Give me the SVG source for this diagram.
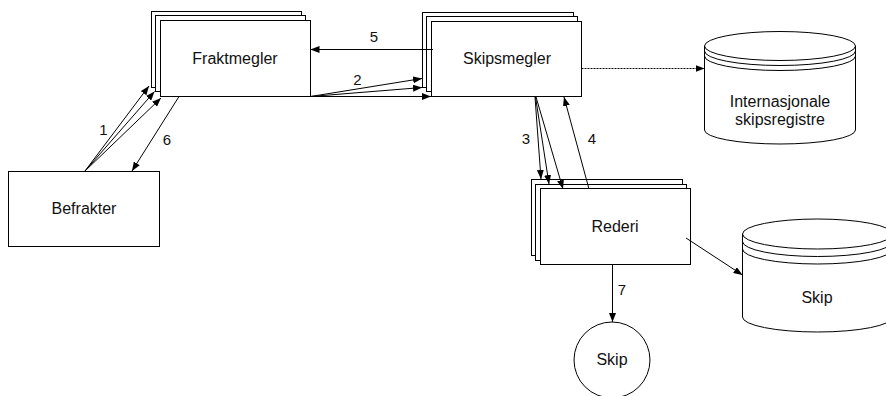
<svg xmlns="http://www.w3.org/2000/svg" width="886" height="396" viewBox="0 0 886 396">
<style>
.box{fill:#fff;stroke:#000;stroke-width:1}
.ln{fill:none;stroke:#000;stroke-width:1}
.t{font-family:"Liberation Sans",Arial,sans-serif;font-size:16px;fill:#111;text-anchor:middle}
.n{font-family:"Liberation Sans",Arial,sans-serif;font-size:15px;fill:#111;text-anchor:middle}
</style>
<defs>
<marker id="ah" markerWidth="9" markerHeight="7" refX="9" refY="3.5" orient="auto" markerUnits="userSpaceOnUse">
<path d="M0,0 L9,3.5 L0,7 z" fill="#000"/>
</marker>
</defs>
<rect width="886" height="396" fill="#fff"/>
<g id="fraktmegler">
<rect class="box" x="151.5" y="11.5" width="150" height="76"/>
<rect class="box" x="155.5" y="15.5" width="150" height="76"/>
<rect class="box" x="160.5" y="20.5" width="150" height="76"/>
<text class="t" x="235" y="63.5">Fraktmegler</text>
</g>
<g id="skipsmegler">
<rect class="box" x="422.5" y="12.5" width="151" height="75"/>
<rect class="box" x="426.5" y="16.5" width="151" height="75"/>
<rect class="box" x="431.5" y="21.5" width="150" height="75"/>
<text class="t" x="507" y="64">Skipsmegler</text>
</g>
<g id="befrakter">
<rect class="box" x="8.5" y="171.5" width="151" height="75"/>
<text class="t" x="84" y="214">Befrakter</text>
</g>
<g id="rederi">
<rect class="box" x="531.5" y="179.5" width="151" height="76"/>
<rect class="box" x="535.5" y="184.5" width="151" height="76"/>
<rect class="box" x="540.5" y="188.5" width="150" height="76"/>
<text class="t" x="615" y="232">Rederi</text>
</g>
<g id="internasjonale">
<path class="box" d="M704.5,46 V130 A75.5,14 0 0 0 855.5,130 V46 A75.5,14.5 0 0 0 704.5,46 Z"/>
<path class="ln" d="M704.5,46 A75.5,14.5 0 0 0 855.5,46 M704.5,51 A75.5,14.5 0 0 0 855.5,51 M704.5,56 A75.5,14.5 0 0 0 855.5,56"/>
<text class="t" x="780" y="106.5">Internasjonale</text>
<text class="t" x="780" y="124.5">skipsregistre</text>
</g>
<g id="skip-db">
<path class="box" d="M742.5,234 V317 A75,15 0 0 0 892.5,317 V234 A75,15 0 0 0 742.5,234 Z"/>
<path class="ln" d="M742.5,234 A75,15 0 0 0 892.5,234 M742.5,241.5 A75,15 0 0 0 892.5,241.5 M742.5,249 A75,15 0 0 0 892.5,249"/>
<text class="t" x="817" y="303">Skip</text>
</g>
<g id="skip-ship">
<circle class="box" cx="612" cy="360" r="38"/>
<text class="t" x="612" y="365">Skip</text>
</g>
<g id="connectors">
<line class="ln" x1="85" y1="171" x2="149" y2="86" marker-end="url(#ah)"/>
<line class="ln" x1="85" y1="171" x2="154.5" y2="91.5" marker-end="url(#ah)"/>
<line class="ln" x1="85" y1="171" x2="161" y2="98" marker-end="url(#ah)"/>
<line class="ln" x1="179" y1="96.5" x2="132" y2="171" marker-end="url(#ah)"/>
<line class="ln" x1="310.5" y1="96.5" x2="422" y2="78.5" marker-end="url(#ah)"/>
<line class="ln" x1="310.5" y1="96.5" x2="422" y2="87.5" marker-end="url(#ah)"/>
<line class="ln" x1="310.5" y1="96.5" x2="431" y2="96.5" marker-end="url(#ah)"/>
<line class="ln" x1="433" y1="49.5" x2="310.5" y2="49.5" marker-end="url(#ah)"/>
<line class="ln" x1="581.5" y1="68.5" x2="704.5" y2="68.5" stroke-dasharray="2,1" marker-end="url(#ah)"/>
<line class="ln" x1="535" y1="97" x2="541" y2="179" marker-end="url(#ah)"/>
<line class="ln" x1="535.5" y1="97" x2="549" y2="184" marker-end="url(#ah)"/>
<line class="ln" x1="536" y1="97" x2="563" y2="189" marker-end="url(#ah)"/>
<line class="ln" x1="589" y1="189" x2="564" y2="97" marker-end="url(#ah)"/>
<line class="ln" x1="686" y1="238" x2="742.5" y2="275" marker-end="url(#ah)"/>
<line class="ln" x1="612.5" y1="264.5" x2="612.5" y2="322" marker-end="url(#ah)"/>
<text class="n" x="103.5" y="135">1</text>
<text class="n" x="167" y="145">6</text>
<text class="n" x="374" y="42">5</text>
<text class="n" x="357.5" y="85">2</text>
<text class="n" x="526" y="143.5">3</text>
<text class="n" x="592" y="143.5">4</text>
<text class="n" x="622" y="295">7</text>
</g>
</svg>
